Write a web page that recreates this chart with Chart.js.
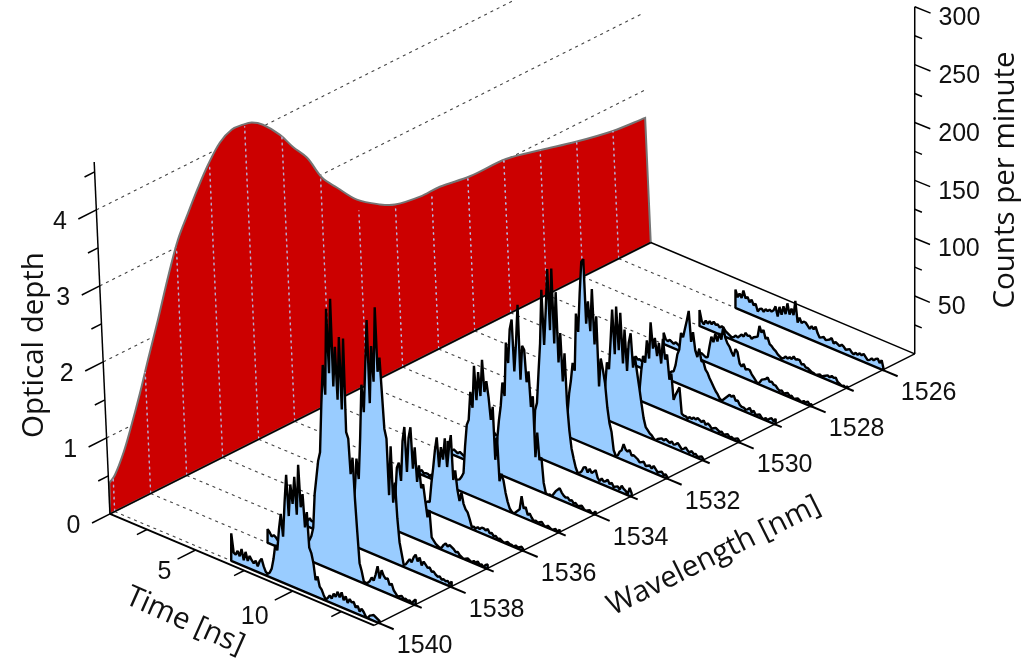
<!DOCTYPE html>
<html>
<head>
<meta charset="utf-8">
<title>Optical depth and counts per minute</title>
<style>
  html, body { margin: 0; background: #fff; overflow: hidden; }
  canvas { display: block; }
</style>
<script src="https://cdn.jsdelivr.net/npm/chart.js@4/dist/chart.umd.min.js"></script>
</head>
<body>
<canvas id="chart" width="1027" height="663"></canvas>
<script>
// optical depth wall
const wallWavelengths = [1540.11, 1539.95, 1539.69, 1539.48, 1539.17, 1538.91, 1538.59, 1538.26, 1537.95, 1537.64, 1537.34, 1537.04, 1536.69, 1536.35, 1536.04, 1535.8, 1535.5, 1535.05, 1534.71, 1534.34, 1533.96, 1533.56, 1533.04, 1532.42, 1532.01, 1531.32, 1530.77, 1529.94, 1528.94, 1527.98, 1527.02, 1526, 1525.11];
const wallDepths = [0.4, 0.47, 0.7, 0.95, 1.36, 1.74, 2.19, 2.68, 3.09, 3.37, 3.63, 3.86, 4.07, 4.16, 4.15, 4.12, 4.02, 3.78, 3.54, 3.31, 2.96, 2.73, 2.45, 2.24, 2.14, 2.08, 2.08, 2.02, 2.01, 1.9, 1.78, 1.68, 1.64];

// one spectrum per nm, sampled evenly from timeStart to timeEnd
const wavelengths = [1526, 1527, 1528, 1529, 1530, 1531, 1532, 1533, 1534, 1535, 1536, 1537, 1538, 1539, 1540];
const sliceDepths = [1.68, 1.78, 1.9, 2.01, 2.02, 2.04, 2.13, 2.3, 3.0, 3.75, 4.12, 3.85, 3.0, 1.6, 0.47];
const timeStart = 6.63;
const timeEnd = 14.23;

const counts1526 = [16,10,14,11,18,12,14,10,13,9,11,5,8,9,7,10,9,11,10,12,16,8,17,11,19,13,23,14,20,15,28,10,15,11,13,13,11,9,12,10,13,8,5,6,7,5,6,7,9,5,7,6,5,7,6,4,5,6,4,3,5,4,6,5,7,5,3,4,6,5,7,8,5,8,1];
const counts1527 = [14,5,3,7,5,8,6,9,7,8,6,8,7,5,4,3,2,3,5,4,6,8,7,11,9,10,8,10,11,12,22,17,20,13,15,10,9,7,6,4,3,2,3,5,4,6,5,8,6,7,7,4,5,3,3,2,1,1,0,1,2,1,2,3,4,3,5,4,5,2,1,0,1,0,2];
const counts1528 = [10,5,4,6,5,4,6,5,4,5,6,4,5,5,4,6,5,4,5,6,5,4,5,15,24,20,28,22,30,25,37,28,24,22,18,15,22,20,11,9,12,8,9,9,6,4,2,0,2,5,6,7,9,6,7,5,5,3,2,3,1,2,3,1,2,0,1,2,1,0,2,1,3,1,2];
const counts1529 = [12,6,7,5,8,6,7,6,8,7,6,8,7,5,6,7,5,6,8,6,7,6,8,9,15,25,30,45,42,50,58,67,41,50,35,30,38,28,28,22,20,16,13,10,7,5,2,1,3,5,7,9,8,10,6,7,4,3,3,2,3,5,2,4,1,2,3,1,0,2,1,3,4,2,5];
const counts1530 = [8,5,4,6,5,7,4,6,5,6,4,5,7,5,6,4,5,6,4,5,3,4,2,6,10,27,40,35,55,40,72,50,60,45,57,40,62,45,50,29,35,13,18,22,26,4,3,3,2,4,3,5,4,6,5,4,6,3,5,4,2,3,4,3,2,3,1,2,3,1,2,1,2,3,1];
const counts1531 = [9,5,6,4,7,5,6,4,6,7,5,6,8,5,7,6,5,7,6,8,7,8,9,10,15,30,50,45,70,98,60,102,65,98,55,85,50,75,84,55,65,52,40,27,15,8,6,4,3,1,0,2,3,4,3,5,4,3,5,3,4,6,4,2,3,5,3,2,4,2,3,1,2,3,1];
const counts1532 = [10,6,5,7,6,8,5,7,6,8,5,7,6,9,7,8,6,9,8,7,9,8,11,14,20,38,50,66,60,110,95,129,157,160,105,125,100,137,90,115,55,80,71,60,40,27,20,5,1,2,6,8,14,10,9,11,7,8,7,6,4,5,6,3,4,5,3,6,4,2,3,4,2,3,1];
const counts1533 = [9,5,6,4,5,6,4,5,7,5,6,8,6,7,5,7,6,8,7,9,8,7,6,5,6,8,40,47,74,100,147,100,130,167,115,169,105,150,90,116,75,100,57,35,20,12,5,1,2,4,8,9,5,9,6,8,10,4,2,5,3,4,6,3,5,2,3,4,2,6,4,3,1,7,3];
const counts1534 = [10,4,3,5,4,3,5,4,3,4,5,3,4,6,5,4,6,5,7,6,8,9,10,12,15,30,47,60,81,70,117,100,130,139,95,120,154,90,120,117,90,100,70,80,28,50,27,30,9,1,0,1,0,3,6,8,10,7,5,4,5,3,4,2,3,1,2,3,1,0,1,2,0,1,3];
const counts1535 = [11,3,4,2,3,4,2,3,3,2,4,3,5,3,4,5,4,6,5,6,7,6,8,9,10,13,17,41,60,65,90,77,114,85,110,90,122,95,105,92,73,85,40,60,23,30,25,15,8,3,1,0,2,4,6,18,8,10,4,6,3,1,2,1,2,3,1,0,2,1,0,1,2,0,3];
const counts1536 = [9,4,5,3,6,4,5,4,3,5,4,6,3,5,4,5,6,4,5,6,5,7,6,8,7,6,8,8,25,39,55,67,42,60,50,69,45,62,74,36,45,29,20,28,19,15,13,8,2,3,2,4,3,5,5,4,6,3,4,2,3,1,2,1,0,1,2,1,1,0,2,1,2,3,1];
const counts1537 = [10,5,6,4,7,5,6,4,6,5,7,6,8,5,7,6,8,7,9,8,10,9,11,10,12,14,15,22,30,55,60,45,80,93,55,85,95,60,79,50,65,46,50,36,23,30,7,5,3,2,1,2,5,7,5,7,6,5,3,4,2,1,0,1,2,1,0,2,1,3,1,2,0,3,4];
const counts1538 = [11,6,5,8,6,7,5,6,8,6,7,9,6,8,10,7,9,8,11,9,12,10,14,18,25,35,50,77,60,96,143,120,160,201,130,180,150,215,160,173,143,113,105,57,100,52,70,40,20,11,2,3,6,9,7,12,15,10,14,8,12,10,8,9,6,7,5,4,5,3,4,3,4,2,5];
const counts1539 = [12,10,7,9,8,6,5,7,6,8,10,7,9,8,12,10,9,14,11,16,13,18,22,30,60,75,90,98,140,175,150,225,170,235,160,195,150,205,143,205,125,120,90,105,70,42,16,10,2,1,2,4,8,6,12,20,10,18,14,12,13,8,10,5,3,1,2,3,1,2,1,2,0,3,5];
const counts1540 = [24,8,7,11,7,14,5,13,6,11,8,6,9,5,10,13,7,3,2,4,8,17,30,26,45,59,40,70,95,60,88,72,96,64,108,72,84,56,70,40,36,28,14,18,10,8,4,1,3,6,4,9,7,12,8,13,7,11,6,10,8,9,5,7,3,6,4,1,0,3,4,5,4,3,2];
const spectra = [counts1526, counts1527, counts1528, counts1529, counts1530, counts1531, counts1532, counts1533, counts1534, counts1535, counts1536, counts1537, counts1538, counts1539, counts1540];

// tick values
const depthMajor = [0, 1, 2, 3, 4];
const depthMinor = [0.5, 1.5, 2.5, 3.5, 4.5];
const countMajor = [50, 100, 150, 200, 250, 300];
const countMinor = [25, 75, 125, 175, 225, 275];
const timeMajor = [5, 10];
const timeMinor = [2.5, 7.5, 12.5];
const waveMajor = [1526, 1528, 1530, 1532, 1534, 1536, 1538, 1540];

// box limits
const timeMin = 0.6, timeMax = 14.18;
const waveFront = 1540.13, waveBack = 1525.11;
const depthTop = 4.63;

// px per unit of the parallel-ish projection
const depthPx = 76, countPx = 1.157;

function project(time, wave, height) {
    const dt = time - timeMin;
    const u = 1540 - wave;
    const tilt = -0.045 * (1 - dt / (timeMax - timeMin));
    return {
        x: 114.7 + 36 * u + 19.44 * dt + tilt * height,
        y: 511.6 - 18.07 * u + 8.2 * dt - height,
    };
}

const datasets = [];
function add(points, style) {
    // later additions are painted on top
    datasets.push({
        data: points,
        showLine: true,
        pointRadius: 0,
        borderColor: '#000',
        borderWidth: 1.5,
        fill: false,
        order: -datasets.length,
        ...style,
    });
}

const floorDash = { borderColor: '#444', borderWidth: 1.1, borderDash: [3, 4] };

// depth gridlines run behind the wall
depthMajor.slice(1).forEach((d) => {
    add([project(timeMin, waveFront, d * depthPx), project(timeMin, waveBack, d * depthPx)], floorDash);
});

// red wall; all four corners doubled so the tension only rounds the top curve
const wallFootLeft = project(timeMin, waveFront, 0);
const wallFootRight = project(timeMin, waveBack, 0);
const wallTop = wallWavelengths.map((w, i) => project(timeMin, w, wallDepths[i] * depthPx));
add([
    wallFootLeft, wallFootLeft,
    wallTop[0], ...wallTop, wallTop[wallTop.length - 1],
    wallFootRight, wallFootRight,
    wallFootLeft, wallFootLeft,
], { fill: 'shape', backgroundColor: '#cc0000', borderColor: '#757575', borderWidth: 2, tension: 0.35 });

// slices across the wall and floor
wavelengths.forEach((w, i) => {
    const foot = project(timeMin, w, 0);
    const top = project(timeMin, w, sliceDepths[i] * depthPx);
    add([foot, top], { borderColor: '#c98fa8', borderWidth: 1.3, borderDash: [3, 3] });
    add([foot, top], { borderColor: '#99ccff', borderWidth: 1.3, borderDash: [1, 5], borderDashOffset: -1 });
    add([foot, project(timeStart, w, 0)], floorDash);
});

// box edges
add([project(timeMin, waveFront, 0), project(timeMin, waveBack, 0)], {});
add([project(timeMin, waveBack, 0), project(timeMax, waveBack, 0)], {});
add([project(timeMin, waveFront, 0), project(timeMin, waveFront, depthTop * depthPx)], {});
add([project(timeMax, waveBack, 0), project(timeMax, waveBack, 300 * countPx)], {});

depthMajor.forEach((d) => add([project(timeMin, waveFront, d * depthPx), project(timeMin, waveFront + 0.5, d * depthPx)], {}));
depthMinor.forEach((d) => add([project(timeMin, waveFront, d * depthPx), project(timeMin, waveFront + 0.28, d * depthPx)], {}));
countMajor.forEach((c) => add([project(timeMax, waveBack, c * countPx), project(timeMax + 0.77, waveBack, c * countPx)], {}));
countMinor.forEach((c) => add([project(timeMax, waveBack, c * countPx), project(timeMax + 0.36, waveBack, c * countPx)], {}));

// spectra, back to front, each ends in its tick on the wavelength axis
wavelengths.forEach((w, i) => {
    const values = spectra[i];
    const step = (timeEnd - timeStart) / (values.length - 1);
    const curve = values.map((c, k) => project(timeStart + k * step, w, c * countPx));
    add([
        project(timeStart, w, 0),
        ...curve,
        project(timeEnd, w, 0),
        project(timeStart, w, 0),
    ], { fill: 'shape', backgroundColor: '#99ccff', borderWidth: 2.4, borderJoinStyle: 'bevel' });
    const tick = waveMajor.includes(w) ? 0.77 : 0.36;
    add([project(timeEnd, w, 0), project(timeMax + tick, w, 0)], { borderWidth: 2 });
});

// front edges
add([project(timeMax, waveFront, 0), project(timeMax, waveBack, 0)], {});
add([project(timeMin, waveFront, 0), project(timeMax, waveFront, 0)], { borderWidth: 2 });
timeMajor.forEach((t) => add([project(t, waveFront, 0), project(t, waveFront + 0.5, 0)], {}));
timeMinor.forEach((t) => add([project(t, waveFront, 0), project(t, waveFront + 0.28, 0)], {}));

// tick labels and titles are painted after the datasets
const labelPlugin = {
    id: 'boxLabels',
    afterDraw(chart) {
        const { ctx, scales } = chart;
        const px = (p) => ({ x: scales.x.getPixelForValue(p.x), y: scales.y.getPixelForValue(p.y) });
        const put = (text, p, dx, dy, align) => {
            const q = px(p);
            ctx.textAlign = align;
            ctx.fillText(text, q.x + dx, q.y + dy);
        };
        ctx.save();
        ctx.fillStyle = '#111';
        ctx.textBaseline = 'middle';
        ctx.font = '25px "Liberation Sans", Arial, sans-serif';
        depthMajor.forEach((d) => put(String(d), project(timeMin, waveFront + 0.5, d * depthPx), -18.5, 3, 'center'));
        countMajor.forEach((c) => put(String(c), project(timeMax + 0.77, waveBack, c * countPx), 8, 5, 'left'));
        timeMajor.forEach((t) => put(String(t), project(t, waveFront + 0.5, 0), t < 10 ? -13 : -20, t < 10 ? 13 : 17, 'center'));
        waveMajor.forEach((w) => put(String(w), project(timeMax + 0.77, w, 0), 31, 17, 'center'));

        ctx.font = '29.5px "Open Sans", sans-serif';
        ctx.textAlign = 'center';
        const title = (text, x, y, deg) => {
            ctx.save();
            ctx.translate(x, y);
            ctx.rotate(deg * Math.PI / 180);
            ctx.fillText(text, 0, 0);
            ctx.restore();
        };
        title('Optical depth', 35, 345, -90);
        title('Counts per minute', 1006, 180, -90);
        title('Time [ns]', 185, 621, 24);
        title('Wavelength [nm]', 714, 556, -26.5);
        ctx.restore();
    },
};

new Chart(document.getElementById('chart'), {
    type: 'scatter',
    data: { datasets },
    options: {
        responsive: false,
        animation: false,
        events: [],
        layout: { padding: 0 },
        elements: { line: { tension: 0 } },
        plugins: { legend: { display: false }, tooltip: { enabled: false } },
        scales: {
            x: { type: 'linear', min: 0, max: 1027, display: false },
            y: { type: 'linear', min: 0, max: 663, reverse: true, display: false },
        },
    },
    plugins: [labelPlugin],
});
</script>
</body>
</html>
